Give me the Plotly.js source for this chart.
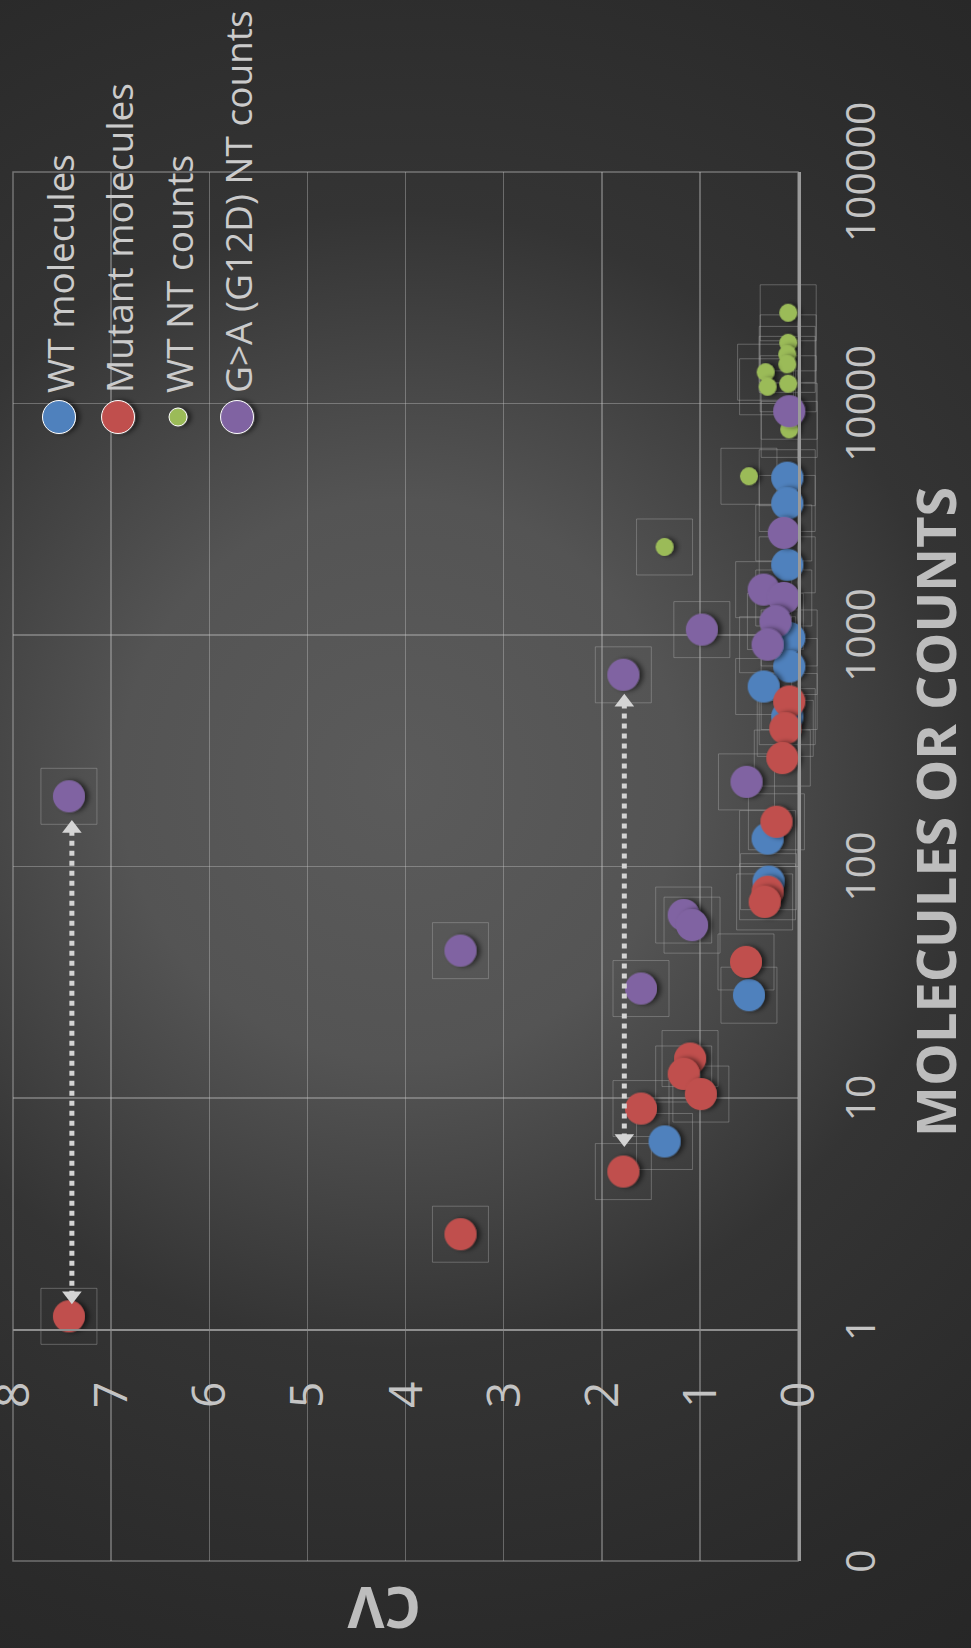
<!DOCTYPE html>
<html>
<head>
<meta charset="utf-8">
<script src="https://cdn.plot.ly/plotly-3.0.1.min.js"></script>
<style>
  html, body {
    margin: 0; padding: 0; width: 971px; height: 1648px; overflow: hidden;
    background: radial-gradient(circle at 400px 780px, #5b5b5b 0px, #545454 280px, #474747 400px, #343434 570px, #2a2a2a 880px, #252525 1100px);
  }
  /* the chart is laid out landscape and turned a quarter turn to stand upright */
  #chart {
    position: absolute; left: 0; top: 0; width: 1648px; height: 971px;
    transform-origin: 0 0; transform: translate(0, 1648px) rotate(-90deg);
  }
</style>
</head>
<body>
<div id="chart"></div>
<script>
// ---- series: molecules / counts (x) and coefficient of variation (y) ----
const wtMolX  = [4780, 3700, 2010, 971, 731, 599, 444, 132, 86, 27.8, 6.49];
const wtMolCV = [0.11, 0.11, 0.11, 0.09, 0.09, 0.35, 0.11, 0.31, 0.30, 0.50, 1.36];

const mutMolX  = [516, 395, 294, 156, 77.8, 70.3, 38.7, 14.8, 12.7, 10.4, 9.0, 4.81, 2.58, 1.14];
const mutMolCV = [0.09, 0.13, 0.16, 0.22, 0.31, 0.34, 0.53, 1.10, 1.165, 0.99, 1.60, 1.78, 3.44, 7.43];

const wtNtX  = [24650, 18280, 16300, 14760, 13650, 11810, 12170, 7730, 4850, 2400];
const wtNtCV = [0.10, 0.10, 0.11, 0.11, 0.33, 0.31, 0.10, 0.09, 0.50, 1.36];

const gaNtX  = [9260, 2760, 1570, 1445, 1143, 908, 1055, 673, 232, 61.7, 55.8, 29.7, 43.3, 201];
const gaNtCV = [0.09, 0.145, 0.35, 0.145, 0.23, 0.31, 0.98, 1.78, 0.525, 1.165, 1.08, 1.60, 3.44, 7.43];

// dotted double-headed arrows linking mutant molecules to G>A counts
const arrowCV   = [7.40, 1.77];
const arrowLow  = [1.40, 6.68];
const arrowHigh = [146, 512];

// ---- labels ----
const seriesNames  = ['WT molecules', 'Mutant molecules', 'WT NT counts', 'G>A (G12D) NT counts'];
const seriesColors = ['#4f81bd', '#c0504d', '#9bbb59', '#8064a2'];
const molTickVals  = [0.1, 1, 10, 100, 1000, 10000, 100000];
const molTickText  = ['0', '1', '10', '100', '1000', '10000', '100000'];
const cvTickVals   = [0, 1, 2, 3, 4, 5, 6, 7, 8];

const FONT = 'Open Sans, Noto Sans, sans-serif';
const TXT = '#c4c4c4';
const GRID = 'rgba(200,200,200,0.38)';
const molRange = [-1, 5];

// frames drawn behind every point
const allX = [].concat(wtMolX, mutMolX, wtNtX, gaNtX);
const allY = [].concat(wtMolCV, mutMolCV, wtNtCV, gaNtCV);

const traces = [
  {
    x: allX, y: allY, type: 'scatter', mode: 'markers', hoverinfo: 'skip', showlegend: false,
    marker: { symbol: 'square-open', size: 56, opacity: 1, color: 'rgba(175,175,175,0.40)', line: { width: 1, color: 'rgba(175,175,175,0.40)' } },
    cliponaxis: false
  },
  { uid: 'wtmol', name: seriesNames[0], x: wtMolX, y: wtMolCV, type: 'scatter', mode: 'markers',
    marker: { color: seriesColors[0], size: 32, opacity: 1 }, cliponaxis: false },
  { uid: 'mutmol', name: seriesNames[1], x: mutMolX, y: mutMolCV, type: 'scatter', mode: 'markers',
    marker: { color: seriesColors[1], size: 32, opacity: 1 }, cliponaxis: false },
  { uid: 'wtnt', name: seriesNames[2], x: wtNtX, y: wtNtCV, type: 'scatter', mode: 'markers',
    marker: { color: seriesColors[2], size: 18, opacity: 1 }, cliponaxis: false },
  { uid: 'gant', name: seriesNames[3], x: gaNtX, y: gaNtCV, type: 'scatter', mode: 'markers',
    marker: { color: seriesColors[3], size: 32, opacity: 1 }, cliponaxis: false }
];

arrowCV.forEach(function (cv, i) {
  traces.push({
    x: [arrowLow[i], arrowHigh[i]], y: [cv, cv], type: 'scatter', mode: 'lines+markers',
    hoverinfo: 'skip', showlegend: false, cliponaxis: false,
    line: { color: '#d4d4d4', width: 5, dash: '5px,5px' },
    marker: { symbol: ['triangle-left', 'triangle-right'], size: 17, color: '#d4d4d4', opacity: 1 }
  });
});

// legend drawn inside the plot area (fractions of the plot area)
const legX = 0.8236;
const legY = [0.9414, 0.8662, 0.7898, 0.7146];
const legSize = [33, 33, 18, 33];
traces.push({
  uid: 'legend', x: legY.map(function () { return legX; }), y: legY, xaxis: 'x2', yaxis: 'y2',
  type: 'scatter', mode: 'markers', hoverinfo: 'skip', showlegend: false, cliponaxis: false,
  marker: { color: seriesColors, size: legSize, opacity: 1 }
});

const annotations = seriesNames.map(function (name, i) {
  return {
    xref: 'paper', yref: 'paper', x: 0.8392, y: legY[i], xanchor: 'left', yanchor: 'middle',
    text: name, showarrow: false, font: { family: FONT, size: 37, color: '#cbcbcb' }
  };
});
annotations.push({
  xref: 'paper', yref: 'paper', x: 0.5392, y: -0.175, xanchor: 'center', yanchor: 'middle',
  text: 'MOLECULES OR COUNTS', showarrow: false,
  font: { family: FONT, size: 54, weight: 'bold', color: '#bdbdbd' }
});
annotations.push({
  xref: 'paper', yref: 'paper', x: -0.0346, y: 0.5274, xanchor: 'center', yanchor: 'middle',
  text: 'CV', textangle: -90, showarrow: false,
  font: { family: FONT, size: 57, weight: 'bold', color: '#bdbdbd' }
});

const layout = {
  width: 1648, height: 971,
  margin: { l: 87, r: 172, t: 13, b: 173, pad: 0 },
  paper_bgcolor: 'rgba(0,0,0,0)', plot_bgcolor: 'rgba(0,0,0,0)',
  showlegend: false,
  font: { family: FONT, color: TXT },
  xaxis: {
    type: 'log', range: molRange, tickmode: 'array', tickvals: molTickVals, ticktext: molTickText,
    showgrid: true, gridcolor: GRID, gridwidth: 1.5, zeroline: false,
    showline: true, linecolor: '#9a9a9a', linewidth: 3,
    ticks: 'outside', ticklen: 25, tickcolor: 'rgba(0,0,0,0)',
    tickfont: { family: FONT, size: 41, color: TXT }
  },
  yaxis: {
    range: [0, 8], tickmode: 'array', tickvals: cvTickVals,
    anchor: 'free', position: (Math.log10(1) - molRange[0]) / (molRange[1] - molRange[0]),
    showgrid: true, gridcolor: GRID, gridwidth: 1.5, zeroline: false,
    showline: true, linecolor: '#8e8e8e', linewidth: 2,
    ticks: 'outside', ticklen: 42, tickcolor: 'rgba(0,0,0,0)',
    ticklabeloverflow: 'allow',
    tickfont: { family: FONT, size: 46, color: TXT }
  },
  xaxis2: { overlaying: 'x', anchor: 'y2', range: [0, 1], visible: false },
  yaxis2: { overlaying: 'y', anchor: 'x2', range: [0, 1], visible: false },
  shapes: [{
    type: 'rect', xref: 'paper', yref: 'paper', x0: 0, x1: 1, y0: 0, y1: 1,
    line: { color: 'rgba(200,200,200,0.45)', width: 1.5 }, layer: 'below'
  }],
  annotations: annotations
};

Plotly.newPlot('chart', traces, layout, { staticPlot: true }).then(function (gd) {
  // soft drop shadow under the round markers
  const svgNS = 'http://www.w3.org/2000/svg';
  const svg = gd.querySelector('.main-svg');
  let defs = svg.querySelector('defs');
  if (!defs) { defs = document.createElementNS(svgNS, 'defs'); svg.insertBefore(defs, svg.firstChild); }
  const filter = document.createElementNS(svgNS, 'filter');
  filter.setAttribute('id', 'markerShadow');
  filter.setAttribute('x', '-50%'); filter.setAttribute('y', '-50%');
  filter.setAttribute('width', '200%'); filter.setAttribute('height', '200%');
  const ds = document.createElementNS(svgNS, 'feDropShadow');
  ds.setAttribute('dx', '0'); ds.setAttribute('dy', '4');
  ds.setAttribute('stdDeviation', '2.5');
  ds.setAttribute('flood-color', '#000'); ds.setAttribute('flood-opacity', '0.55');
  filter.appendChild(ds);
  defs.appendChild(filter);
  ['wtmol', 'mutmol', 'wtnt', 'gant', 'legend'].forEach(function (uid) {
    gd.querySelectorAll('.trace' + uid + ' .point').forEach(function (p) {
      p.setAttribute('filter', 'url(#markerShadow)');
    });
  });
});
</script>
</body>
</html>
